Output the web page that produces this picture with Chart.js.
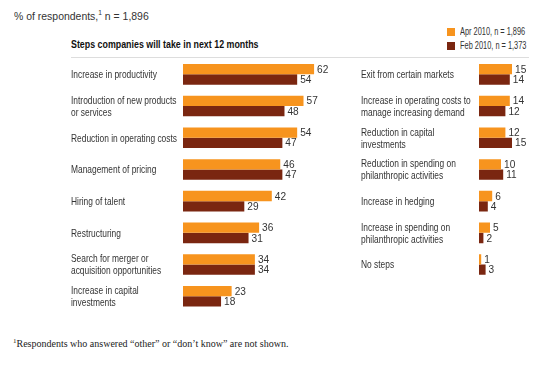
<!DOCTYPE html>
<html lang="en">
<head>
<meta charset="UTF-8">
<title>Steps companies will take</title>
<script src="https://cdn.jsdelivr.net/npm/chart.js"></script>
<style>
  body { margin:0; background:#fff; width:545px; height:365px; position:relative; overflow:hidden;
         font-family:"Liberation Sans",Arial,sans-serif; color:#333; }
  .note { position:absolute; left:14px; top:9px; font-size:11px; transform:scaleX(0.95); transform-origin:left; }
  .note sup, .foot sup { font-size:7px; }
  .title { position:absolute; left:71px; top:38px; font-size:11.5px; font-weight:bold; color:#111;
           transform:scaleX(0.77); transform-origin:left; white-space:nowrap; }
  .rule { position:absolute; left:71px; top:57px; width:458px; height:1px; background:#ddd; }
  .legend { position:absolute; left:447px; top:26px; font-size:10px; }
  .legend div { height:13.5px; line-height:11px; white-space:nowrap; }
  .legend span { display:inline-block; width:8px; height:8px; margin-right:5px; vertical-align:-1px; }
  .legend em { font-style:normal; display:inline-block; transform:scaleX(0.74); transform-origin:left; }
  .foot { position:absolute; left:13px; top:337px; font-family:"Liberation Serif","DejaVu Serif",serif; font-size:10px; color:#222; }
  #left { position:absolute; left:71px; top:50px; }
  #right { position:absolute; left:361px; top:50px; }
</style>
</head>
<body>
<div class="note">% of respondents,<sup>1</sup> n = 1,896</div>
<div class="title">Steps companies will take in next 12 months</div>
<div class="rule"></div>
<div class="legend" id="legend"></div>
<canvas id="left" width="260" height="272"></canvas>
<canvas id="right" width="184" height="240"></canvas>
<div class="foot"><sup>1</sup>Respondents who answered “other” or “don’t know” are not shown.</div>

<script>
// series
var seriesNames = ['Apr 2010, n = 1,896', 'Feb 2010, n = 1,373'];
var cores = ['#f7941e', '#7a2610'];

// left panel
var catsLeft = [
  'Increase in productivity',
  ['Introduction of new products', 'or services'],
  'Reduction in operating costs',
  'Management of pricing',
  'Hiring of talent',
  'Restructuring',
  ['Search for merger or', 'acquisition opportunities'],
  ['Increase in capital', 'investments']
];
var aprLeft = [62, 57, 54, 46, 42, 36, 34, 23];
var febLeft = [54, 48, 47, 47, 29, 31, 34, 18];

// right panel
var catsRight = [
  'Exit from certain markets',
  ['Increase in operating costs to', 'manage increasing demand'],
  ['Reduction in capital', 'investments'],
  ['Reduction in spending on', 'philanthropic activities'],
  'Increase in hedging',
  ['Increase in spending on', 'philanthropic activities'],
  'No steps'
];
var aprRight = [15, 14, 12, 10, 6, 5, 1];
var febRight = [14, 12, 15, 11, 4, 2, 3];

var fonte = '"Liberation Sans", Arial, sans-serif';

// legenda em html
var leg = document.getElementById('legend');
for (var i = 0; i < seriesNames.length; i++) {
  leg.innerHTML += '<div><span style="background:' + cores[i] + '"></span><em>' + seriesNames[i] + '</em></div>';
}

// escreve o valor no fim de cada barra
var valores = {
  id: 'valores',
  afterDatasetsDraw: function(chart) {
    var ctx = chart.ctx;
    ctx.save();
    ctx.font = '11px ' + fonte;
    ctx.fillStyle = '#333';
    ctx.textBaseline = 'middle';
    ctx.textAlign = 'left';
    chart.data.datasets.forEach(function(ds, d) {
      chart.getDatasetMeta(d).data.forEach(function(bar, j) {
        ctx.save();
        ctx.translate(bar.x + 3, bar.y + 0.5);
        ctx.scale(0.92, 1);
        ctx.fillText(ds.data[j], 0, 0);
        ctx.restore();
      });
    });
    ctx.restore();
  }
};

// rótulos das categorias (fonte estreita -> escala horizontal)
var rotulos = {
  id: 'rotulos',
  afterDraw: function(chart) {
    var ctx = chart.ctx;
    var y = chart.scales.y;
    ctx.save();
    ctx.font = '10.5px ' + fonte;
    ctx.fillStyle = '#333';
    ctx.textBaseline = 'middle';
    ctx.textAlign = 'left';
    chart.data.labels.forEach(function(lab, i) {
      var linhas = Array.isArray(lab) ? lab : [lab];
      var cy = y.getPixelForValue(i) + 1;
      linhas.forEach(function(t, k) {
        ctx.save();
        ctx.translate(y.left, cy + (k - (linhas.length - 1) / 2) * 12);
        ctx.scale(0.8, 1);
        ctx.fillText(t, 0, 0);
        ctx.restore();
      });
    });
    ctx.restore();
  }
};

function criaGrafico(id, cats, apr, feb, max, largEixo, alturaArea) {
  var ctx = document.getElementById(id).getContext('2d');
  return new Chart(ctx, {
    type: 'bar',
    data: {
      labels: cats,
      datasets: [
        { label: seriesNames[0], data: apr, backgroundColor: cores[0], barPercentage: 1, categoryPercentage: 0.65 },
        { label: seriesNames[1], data: feb, backgroundColor: cores[1], barPercentage: 1, categoryPercentage: 0.65 }
      ]
    },
    options: {
      indexAxis: 'y',
      responsive: false,
      animation: false,
      layout: { padding: { top: 8.5, right: 0, left: 0, bottom: 0 } },
      plugins: { legend: { display: false }, tooltip: { enabled: false } },
      scales: {
        x: { min: 0, max: max, display: false },
        y: {
          grid: { display: false, drawTicks: false },
          border: { display: false },
          ticks: { display: false },
          afterFit: function(s) { s.width = largEixo; }
        }
      }
    },
    plugins: [valores, rotulos, {
      id: 'altura',
      beforeLayout: function(chart) {
        chart.options.layout.padding.bottom = chart.height - 8.5 - alturaArea;
      }
    }]
  });
}

criaGrafico('left', catsLeft, aprLeft, febLeft, 70, 112, 8 * 31.7);
criaGrafico('right', catsRight, aprRight, febRight, 30, 118, 7 * 31.7);
</script>
</body>
</html>
